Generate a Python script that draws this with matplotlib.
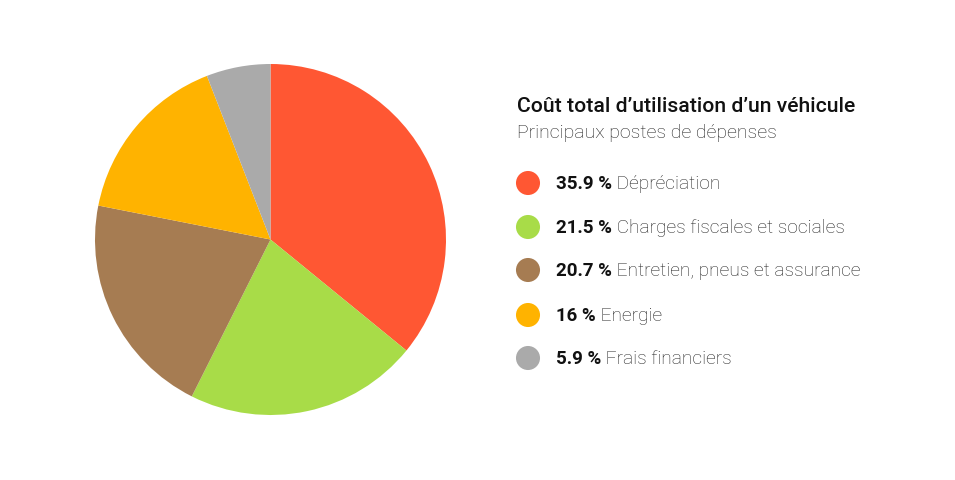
import matplotlib
matplotlib.use('Agg')
import matplotlib.pyplot as plt

# - Data
labels = ['Dépréciation', 'Charges fiscales et sociales', 'Entretien, pneus et assurance',
          'Energie', 'Frais financiers']
values = [35.9, 21.5, 20.7, 16, 5.9]
value_texts = ['35.9 %', '21.5 %', '20.7 %', '16 %', '5.9 %']
colors = ['#FF5733', '#A8DC48', '#A67C52', '#FFB300', '#AAAAAA']

title = 'Coût total d\u2019utilisation d\u2019un véhicule'
subtitle = 'Principaux postes de dépenses'

W, H = 955, 481
fig = plt.figure(figsize=(W / 100, H / 100), dpi=100)
fig.patch.set_facecolor('white')

# - Pie
ax = fig.add_axes([95 / W, 1 - 416 / H, 351 / W, 351 / H])
ax.pie(values, colors=colors, startangle=90, counterclock=False, radius=1,
       wedgeprops={'linewidth': 0})
ax.set_xlim(-1, 1)
ax.set_ylim(-1, 1)
ax.set_aspect('equal')
ax.axis('off')

# - Overlay in pixel coords
ov = fig.add_axes([0, 0, 1, 1])
ov.set_xlim(0, W)
ov.set_ylim(H, 0)
ov.axis('off')

font = 'Roboto'
ov.text(517, 107, title, fontsize=15.2, fontweight='medium', family=font,
        color='#111111', va='center', ha='left')
ov.text(517, 133, subtitle, fontsize=14, fontweight='light', family=font,
        color='#222222', va='center', ha='left')

row_y = [184, 228, 271, 316, 359]
for y, vt, lab, col in zip(row_y, value_texts, labels, colors):
    ov.scatter([528], [y], s=300, color=col, edgecolors='none')
    t = ov.text(556, y, vt, fontsize=13.5, fontweight='bold', family=font,
                color='#111111', va='center', ha='left')
    ov.annotate(' ' + lab, xy=(1, 0), xycoords=t, va='bottom', ha='left',
                fontsize=13.8, fontweight='light', family=font, color='#222222')

plt.savefig('out.png', dpi=100, facecolor='white')
plt.close()
